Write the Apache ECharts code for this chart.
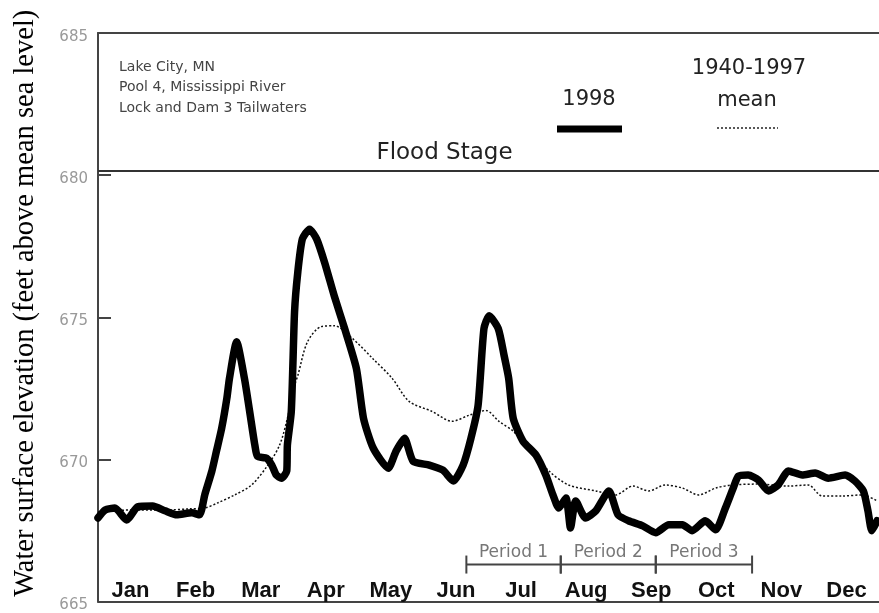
<!DOCTYPE html>
<html>
<head>
<meta charset="utf-8">
<script src="https://cdn.jsdelivr.net/npm/echarts@6/dist/echarts.min.js"></script>
<style>
  html, body { margin: 0; padding: 0; background: #fff; }
  #chart { width: 879px; height: 613px; }
</style>
</head>
<body>
<div id="chart"></div>
<script>
// month labels along the bottom
const months = ['Jan', 'Feb', 'Mar', 'Apr', 'May', 'Jun', 'Jul', 'Aug', 'Sep', 'Oct', 'Nov', 'Dec']

// 1998 water level, x in months since Jan 1
const obsMonth = [0.00, 0.11, 0.26, 0.44, 0.61, 0.84, 1.03, 1.21, 1.44, 1.56, 1.64, 1.75, 1.82, 1.90, 1.98, 2.02,
    2.13, 2.25, 2.33, 2.41, 2.45, 2.59, 2.67, 2.74, 2.82, 2.90, 2.91, 2.97, 3.02, 3.07, 3.14, 3.25, 3.36, 3.48,
    3.63, 3.79, 3.97, 4.08, 4.23, 4.46, 4.58, 4.71, 4.84, 5.09, 5.30, 5.46, 5.61, 5.73, 5.84, 5.93, 6.01, 6.15,
    6.24, 6.31, 6.38, 6.53, 6.73, 6.88, 6.99, 7.08, 7.19, 7.26, 7.34, 7.49, 7.65, 7.85, 7.99, 8.15, 8.37, 8.57,
    8.77, 8.98, 9.13, 9.33, 9.49, 9.64, 9.76, 9.84, 9.99, 10.15, 10.30, 10.45, 10.61, 10.82, 11.02, 11.22, 11.48,
    11.63, 11.76, 11.83, 11.89, 11.97]
const obsLevel = [667.94, 668.22, 668.29, 667.87, 668.33, 668.36, 668.19, 668.05, 668.12, 668.05, 668.75, 669.59,
    670.29, 671.09, 672.15, 672.85, 674.14, 672.85, 671.69, 670.50, 670.11, 670.04, 669.80, 669.45, 669.34, 669.59,
    670.50, 671.69, 675.19, 676.59, 677.75, 678.10, 677.75, 676.94, 675.75, 674.60, 673.20, 671.44, 670.39, 669.69,
    670.29, 670.74, 669.94, 669.80, 669.62, 669.24, 669.80, 670.74, 671.90, 674.60, 675.05, 674.60, 673.65, 672.85,
    671.44, 670.64, 670.15, 669.45, 668.75, 668.29, 668.64, 667.59, 668.54, 667.94, 668.19, 668.89, 668.05, 667.84,
    667.66, 667.42, 667.70, 667.70, 667.49, 667.84, 667.52, 668.29, 668.99, 669.41, 669.45, 669.27, 668.89, 669.10,
    669.59, 669.45, 669.52, 669.34, 669.45, 669.24, 668.89, 668.19, 667.49, 667.84]

// 1940-1997 mean
const meanMonth = [0.00, 0.49, 1.03, 1.41, 1.64, 1.84, 2.10, 2.36, 2.61, 2.79, 2.91, 3.02, 3.07, 3.22, 3.43, 3.63,
    3.91, 4.22, 4.52, 4.78, 5.13, 5.44, 5.70, 5.96, 6.16, 6.38, 6.62, 6.93, 7.23, 7.65, 7.95, 8.22, 8.46, 8.72,
    8.98, 9.23, 9.49, 9.75, 10.15, 10.61, 10.91, 11.13, 11.43, 11.74, 11.97]
const meanLevel = [668.15, 668.22, 668.22, 668.26, 668.29, 668.47, 668.75, 669.10, 669.80, 670.50, 671.44, 672.60,
    672.95, 674.14, 674.67, 674.70, 674.25, 673.55, 672.85, 672.04, 671.69, 671.34, 671.55, 671.72, 671.34, 670.99,
    670.39, 669.59, 669.10, 668.89, 668.75, 669.06, 668.89, 669.10, 668.99, 668.75, 668.99, 669.10, 669.13, 669.06,
    669.10, 668.71, 668.71, 668.75, 668.54]

const floodStage = 680.15

// study periods (start, end in months)
const periodNames = ['Period 1', 'Period 2', 'Period 3']
const periodStart = [5.66, 7.11, 8.57]
const periodEnd = [7.11, 8.57, 10.05]
const periodLevel = 666.3

const yTicks = [665, 670, 675, 680, 685]

let chart = echarts.init(document.getElementById('chart'))

chart.setOption({
    animation: false,
    backgroundColor: '#fff',
    grid: { left: 98, top: 33, width: 783, height: 571 },
    xAxis: [
        {
            type: 'category',
            data: months,
            boundaryGap: true,
            position: 'bottom',
            axisLine: { lineStyle: { color: '#444', width: 2 } },
            axisTick: { inside: true, length: 9, lineStyle: { color: '#444', width: 1.5 } },
            axisLabel: {
                inside: true, margin: 0, color: '#111',
                fontFamily: 'Liberation Sans', fontWeight: 'bold', fontSize: 22
            },
            splitLine: { show: false }
        },
        {
            type: 'value',
            min: 0,
            max: 12,
            position: 'top',
            axisLine: { show: true, onZero: false, lineStyle: { color: '#444', width: 2 } },
            axisTick: { show: false },
            axisLabel: { show: false },
            splitLine: { show: false }
        }
    ],
    yAxis: {
        type: 'value',
        min: 665,
        max: 685,
        interval: 5,
        name: 'Water surface elevation (feet above mean sea level)',
        nameLocation: 'middle',
        nameGap: 58,
        nameTextStyle: {
            fontFamily: 'Liberation Serif', fontSize: 28.5, color: '#000',
            padding: [0, 0, 0, 28]
        },
        axisLine: { show: true, lineStyle: { color: '#444', width: 2 } },
        axisTick: { show: true, inside: true, length: 13, lineStyle: { color: '#444', width: 2 } },
        axisLabel: {
            margin: 10, color: '#999', fontFamily: 'DejaVu Sans', fontSize: 15,
            verticalAlign: 'top', lineHeight: 8,
            formatter: (v) => yTicks.includes(v) ? String(v) : ''
        },
        splitLine: { show: false }
    },
    series: [
        {
            name: '1940-1997 mean',
            type: 'line',
            xAxisIndex: 1,
            data: meanMonth.map((m, i) => [m, meanLevel[i]]),
            showSymbol: false,
            smooth: 0.3,
            lineStyle: { color: '#111', width: 1.5, type: [2, 2] },
            z: 3
        },
        {
            name: '1998',
            type: 'line',
            xAxisIndex: 1,
            data: obsMonth.map((m, i) => [m, obsLevel[i]]),
            showSymbol: false,
            smooth: 0.2,
            lineStyle: { color: '#000', width: 7.5, join: 'round', cap: 'round' },
            z: 4,
            markLine: {
                silent: true,
                symbol: ['none', 'none'],
                lineStyle: { color: '#333', width: 2, type: 'solid' },
                label: {
                    show: true,
                    formatter: 'Flood Stage',
                    position: 'insideMiddleTop',
                    distance: 6,
                    offset: [-44, 0],
                    color: '#222',
                    fontFamily: 'DejaVu Sans',
                    fontSize: 23
                },
                data: [{ yAxis: floodStage }]
            }
        },
        {
            name: 'periods',
            type: 'custom',
            xAxisIndex: 1,
            silent: true,
            data: periodNames.map((n, i) => [periodStart[i], periodEnd[i], periodLevel, n]),
            renderItem: (params, api) => {
                let p0 = api.coord([api.value(0), api.value(2)])
                let p1 = api.coord([api.value(1), api.value(2)])
                let stroke = { stroke: '#444', lineWidth: 2 }
                return {
                    type: 'group',
                    children: [
                        { type: 'line', shape: { x1: p0[0], y1: p0[1], x2: p1[0], y2: p1[1] }, style: stroke },
                        { type: 'line', shape: { x1: p0[0], y1: p0[1] - 9, x2: p0[0], y2: p0[1] + 9 }, style: stroke },
                        { type: 'line', shape: { x1: p1[0], y1: p1[1] - 9, x2: p1[0], y2: p1[1] + 9 }, style: stroke },
                        {
                            type: 'text',
                            style: {
                                x: (p0[0] + p1[0]) / 2, y: p0[1] - 3,
                                text: periodNames[params.dataIndex],
                                align: 'center', verticalAlign: 'bottom',
                                fill: '#777', font: '17px "DejaVu Sans"'
                            }
                        }
                    ]
                }
            },
            z: 5
        }
    ],
    graphic: [
        {
            type: 'text', left: 119, top: 57,
            style: {
                text: 'Lake City, MN\nPool 4, Mississippi River\nLock and Dam 3 Tailwaters',
                fill: '#444', font: '14px "DejaVu Sans"', lineHeight: 20.5
            }
        },
        {
            type: 'text', x: 589, y: 100,
            style: { text: '1998', align: 'center', verticalAlign: 'middle', fill: '#222', font: '21px "DejaVu Sans"' }
        },
        {
            type: 'text', x: 749, y: 69,
            style: { text: '1940-1997', align: 'center', verticalAlign: 'middle', fill: '#222', font: '21px "DejaVu Sans"' }
        },
        {
            type: 'text', x: 747, y: 101,
            style: { text: 'mean', align: 'center', verticalAlign: 'middle', fill: '#222', font: '21px "DejaVu Sans"' }
        },
        {
            type: 'line', shape: { x1: 557, y1: 129, x2: 622, y2: 129 },
            style: { stroke: '#000', lineWidth: 7 }
        },
        {
            type: 'line', shape: { x1: 717, y1: 128, x2: 778, y2: 128 },
            style: { stroke: '#222', lineWidth: 1.5, lineDash: [2, 2] }
        }
    ]
})
</script>
</body>
</html>
